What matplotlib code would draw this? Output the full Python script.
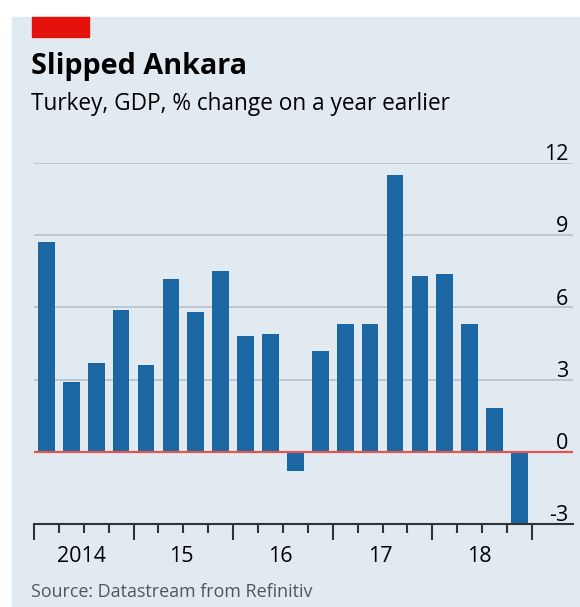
import matplotlib.pyplot as plt
from matplotlib.patches import Rectangle

# Turkey GDP, % change on a year earlier, quarterly 2014 Q1 - 2018 Q4
gdp = [8.7, 2.9, 3.7, 5.9,
       3.6, 7.2, 5.8, 7.5,
       4.8, 4.9, -0.8, 4.2,
       5.3, 5.3, 11.5, 7.3,
       7.4, 5.3, 1.8, -3.0]
year_labels = ["2014", "15", "16", "17", "18"]
y_ticks = [-3, 0, 3, 6, 9, 12]

bg = "#e1eaf1"
blue = "#1a67a3"

plt.rcParams['font.family'] = ['Open Sans', 'DejaVu Sans']

fig = plt.figure(figsize=(5.8, 6.07), dpi=100)
fig.patch.set_facecolor("white")
# panel background and red tab
fig.patches.append(Rectangle((12 / 580, 0), 1, 1 - 17 / 607, transform=fig.transFigure,
                             color=bg, zorder=-2))
fig.patches.append(Rectangle((32 / 580, 1 - 37 / 607), 57 / 580, 20 / 607,
                             transform=fig.transFigure, color="#e3120b", zorder=-1))

fig.text(31 / 580, 1 - 74 / 607, "Slipped Ankara", fontsize=20.7, fontweight="bold",
         color="black", va="baseline")
fig.text(31 / 580, 1 - 110 / 607, "Turkey, GDP, % change on a year earlier", fontsize=16.3,
         color="black", va="baseline")
fig.text(31 / 580, 1 - 597 / 607, "Source: Datastream from Refinitiv", fontsize=12.9,
         color="#555555", va="baseline")

ax = fig.add_axes([34 / 580, 83 / 607, 539 / 580, 361 / 607])
ax.set_facecolor("none")

x = list(range(len(gdp)))
ax.bar(x, gdp, width=0.67, color=blue, zorder=3)

for v in y_ticks[2:]:
    ax.axhline(v, color="#b9c3cc", lw=1.3, zorder=1)
ax.axhline(0, color="#e0554f", lw=1.6, zorder=4)

for v in y_ticks:
    ax.text(0.991, v + 0.12, str(v), transform=ax.get_yaxis_transform(),
            ha="right", va="baseline", fontsize=15.5, color="black")

ax.set_xlim(-0.5, 21.15)
ax.set_ylim(-3, 12)

for s in ["top", "left", "right"]:
    ax.spines[s].set_visible(False)
ax.spines["bottom"].set_color("#333333")
ax.spines["bottom"].set_linewidth(1.5)
ax.spines["bottom"].set_zorder(5)

ax.set_yticks([])
ax.set_xticks([i - 0.5 for i in range(0, 21, 4)])
ax.set_xticks([i - 0.5 for i in range(21) if i % 4], minor=True)
ax.tick_params(axis="x", which="major", length=11.5, width=1.5, color="#333333",
               labelbottom=False)
ax.tick_params(axis="x", which="minor", length=6.5, width=1.5, color="#333333")

for i, lab in enumerate(year_labels):
    ax.text(i * 4 + 1.4, -0.06, lab, transform=ax.get_xaxis_transform(),
            ha="center", va="top", fontsize=15.5, color="black")

fig.savefig("out.png", dpi=100, facecolor=fig.get_facecolor())
